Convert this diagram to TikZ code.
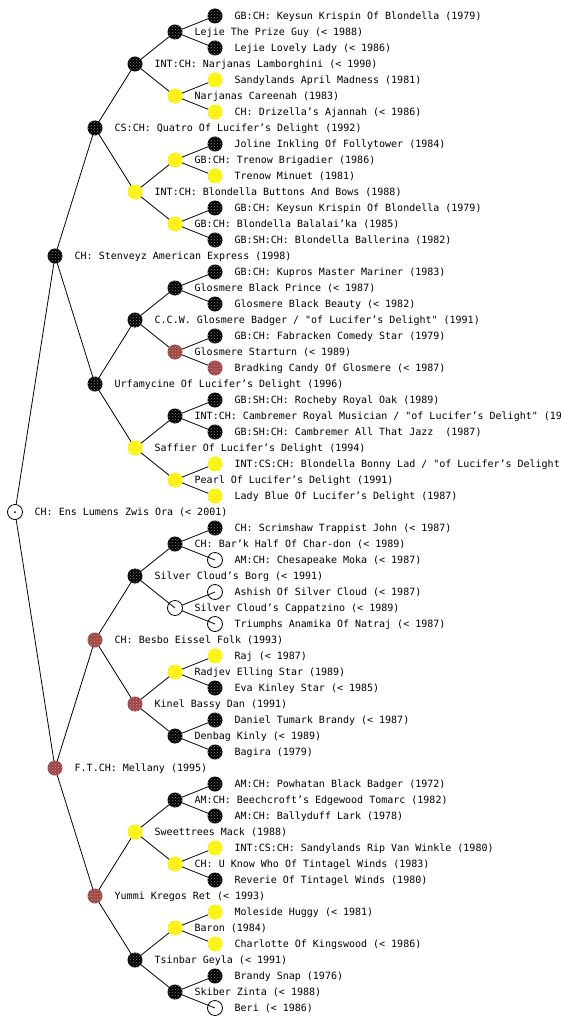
\documentclass[tikz,border=0pt]{standalone}
\usepackage{fontspec}
\setmonofont{DejaVu Sans Mono}
\usetikzlibrary{patterns,backgrounds}
\definecolor{brn}{RGB}{158,66,66}
\tikzset{dog/.style={circle,minimum size=15pt,inner sep=0pt,outer sep=0pt},
  blk/.style={dog,fill=black,postaction={pattern=crosshatch dots,pattern color=gray}},
  yel/.style={dog,fill=yellow,postaction={pattern=crosshatch dots,pattern color=yellow!40!white}},
  red/.style={dog,fill=brn,postaction={pattern=crosshatch dots,pattern color=brn!50!white}},
  wht/.style={dog,draw,line width=.8pt},
  every label/.style={font=\ttfamily\fontsize{10}{12}\selectfont,inner sep=0pt,xshift=12pt,text height=9pt,text depth=1.7pt},
  link/.style={line width=.8pt}}

\begin{document}
\begin{tikzpicture}[x=1pt,y=-1pt]
\useasboundingbox (0,0) rectangle (560,1024);
% root and parents
\node[wht,label={right:{CH: Ens Lumens Zwis Ora (< 2001)}}] (t) at (15,512) {};
\fill (t.center) circle (1pt);
\node[blk,label={right:{CH: Stenveyz American Express (1998)}}] (t0) at (55,256) {};
\node[red,label={right:{F.T.CH: Mellany (1995)}}] (t1) at (55,768) {};
% grandparents
\node[blk,label={right:{CS:CH: Quatro Of Lucifer’s Delight (1992)}}] (t00) at (95,128) {};
\node[blk,label={right:{Urfamycine Of Lucifer’s Delight (1996)}}] (t01) at (95,384) {};
\node[red,label={right:{CH: Besbo Eissel Folk (1993)}}] (t10) at (95,640) {};
\node[red,label={right:{Yummi Kregos Ret (< 1993)}}] (t11) at (95,896) {};
% 3rd generation
\node[blk,label={right:{INT:CH: Narjanas Lamborghini (< 1990)}}] (t000) at (135,64) {};
\node[yel,label={right:{INT:CH: Blondella Buttons And Bows (1988)}}] (t001) at (135,192) {};
\node[blk,label={right:{C.C.W. Glosmere Badger / "of Lucifer’s Delight" (1991)}}] (t010) at (135,320) {};
\node[yel,label={right:{Saffier Of Lucifer’s Delight (1994)}}] (t011) at (135,448) {};
\node[blk,label={right:{Silver Cloud’s Borg (< 1991)}}] (t100) at (135,576) {};
\node[red,label={right:{Kinel Bassy Dan (1991)}}] (t101) at (135,704) {};
\node[yel,label={right:{Sweettrees Mack (1988)}}] (t110) at (135,832) {};
\node[blk,label={right:{Tsinbar Geyla (< 1991)}}] (t111) at (135,960) {};
% 4th generation
\node[blk,label={right:{Lejie The Prize Guy (< 1988)}}] (t0000) at (175,32) {};
\node[yel,label={right:{Narjanas Careenah (1983)}}] (t0001) at (175,96) {};
\node[yel,label={right:{GB:CH: Trenow Brigadier (1986)}}] (t0010) at (175,160) {};
\node[yel,label={right:{GB:CH: Blondella Balalai’ka (1985)}}] (t0011) at (175,224) {};
\node[blk,label={right:{Glosmere Black Prince (< 1987)}}] (t0100) at (175,288) {};
\node[red,label={right:{Glosmere Starturn (< 1989)}}] (t0101) at (175,352) {};
\node[blk,label={right:{INT:CH: Cambremer Royal Musician / "of Lucifer’s Delight" (19}}] (t0110) at (175,416) {};
\node[yel,label={right:{Pearl Of Lucifer’s Delight (1991)}}] (t0111) at (175,480) {};
\node[blk,label={right:{CH: Bar’k Half Of Char-don (< 1989)}}] (t1000) at (175,544) {};
\node[wht,label={right:{Silver Cloud’s Cappatzino (< 1989)}}] (t1001) at (175,608) {};
\node[yel,label={right:{Radjev Elling Star (1989)}}] (t1010) at (175,672) {};
\node[blk,label={right:{Denbag Kinly (< 1989)}}] (t1011) at (175,736) {};
\node[blk,label={right:{AM:CH: Beechcroft’s Edgewood Tomarc (1982)}}] (t1100) at (175,800) {};
\node[yel,label={right:{CH: U Know Who Of Tintagel Winds (1983)}}] (t1101) at (175,864) {};
\node[yel,label={right:{Baron (1984)}}] (t1110) at (175,928) {};
\node[blk,label={right:{Skiber Zinta (< 1988)}}] (t1111) at (175,992) {};
% 5th generation
\node[blk,label={right:{GB:CH: Keysun Krispin Of Blondella (1979)}}] (t00000) at (215,16) {};
\node[blk,label={right:{Lejie Lovely Lady (< 1986)}}] (t00001) at (215,48) {};
\node[yel,label={right:{Sandylands April Madness (1981)}}] (t00010) at (215,80) {};
\node[yel,label={right:{CH: Drizella’s Ajannah (< 1986)}}] (t00011) at (215,112) {};
\node[blk,label={right:{Joline Inkling Of Follytower (1984)}}] (t00100) at (215,144) {};
\node[yel,label={right:{Trenow Minuet (1981)}}] (t00101) at (215,176) {};
\node[blk,label={right:{GB:CH: Keysun Krispin Of Blondella (1979)}}] (t00110) at (215,208) {};
\node[blk,label={right:{GB:SH:CH: Blondella Ballerina (1982)}}] (t00111) at (215,240) {};
\node[blk,label={right:{GB:CH: Kupros Master Mariner (1983)}}] (t01000) at (215,272) {};
\node[blk,label={right:{Glosmere Black Beauty (< 1982)}}] (t01001) at (215,304) {};
\node[blk,label={right:{GB:CH: Fabracken Comedy Star (1979)}}] (t01010) at (215,336) {};
\node[red,label={right:{Bradking Candy Of Glosmere (< 1987)}}] (t01011) at (215,368) {};
\node[blk,label={right:{GB:SH:CH: Rocheby Royal Oak (1989)}}] (t01100) at (215,400) {};
\node[blk,label={right:{GB:SH:CH: Cambremer All That Jazz~ (1987)}}] (t01101) at (215,432) {};
\node[yel,label={right:{INT:CS:CH: Blondella Bonny Lad / "of Lucifer’s Delight}}] (t01110) at (215,464) {};
\node[yel,label={right:{Lady Blue Of Lucifer’s Delight (1987)}}] (t01111) at (215,496) {};
\node[blk,label={right:{CH: Scrimshaw Trappist John (< 1987)}}] (t10000) at (215,528) {};
\node[wht,label={right:{AM:CH: Chesapeake Moka (< 1987)}}] (t10001) at (215,560) {};
\node[wht,label={right:{Ashish Of Silver Cloud (< 1987)}}] (t10010) at (215,592) {};
\node[wht,label={right:{Triumphs Anamika Of Natraj (< 1987)}}] (t10011) at (215,624) {};
\node[yel,label={right:{Raj (< 1987)}}] (t10100) at (215,656) {};
\node[blk,label={right:{Eva Kinley Star (< 1985)}}] (t10101) at (215,688) {};
\node[blk,label={right:{Daniel Tumark Brandy (< 1987)}}] (t10110) at (215,720) {};
\node[blk,label={right:{Bagira (1979)}}] (t10111) at (215,752) {};
\node[blk,label={right:{AM:CH: Powhatan Black Badger (1972)}}] (t11000) at (215,784) {};
\node[blk,label={right:{AM:CH: Ballyduff Lark (1978)}}] (t11001) at (215,816) {};
\node[yel,label={right:{INT:CS:CH: Sandylands Rip Van Winkle (1980)}}] (t11010) at (215,848) {};
\node[blk,label={right:{Reverie Of Tintagel Winds (1980)}}] (t11011) at (215,880) {};
\node[yel,label={right:{Moleside Huggy (< 1981)}}] (t11100) at (215,912) {};
\node[yel,label={right:{Charlotte Of Kingswood (< 1986)}}] (t11101) at (215,944) {};
\node[blk,label={right:{Brandy Snap (1976)}}] (t11110) at (215,976) {};
\node[wht,label={right:{Beri (< 1986)}}] (t11111) at (215,1008) {};
% links: each dog to sire (0) and dam (1)
\begin{scope}[on background layer]
\foreach \p in {t,t0,t1,t00,t01,t10,t11,t000,t001,t010,t011,t100,t101,t110,t111,
  t0000,t0001,t0010,t0011,t0100,t0101,t0110,t0111,t1000,t1001,t1010,t1011,t1100,t1101,t1110,t1111}
  {\draw[link] (\p) -- (\p0.center); \draw[link] (\p) -- (\p1.center);}
\end{scope}
\end{tikzpicture}
\end{document}
